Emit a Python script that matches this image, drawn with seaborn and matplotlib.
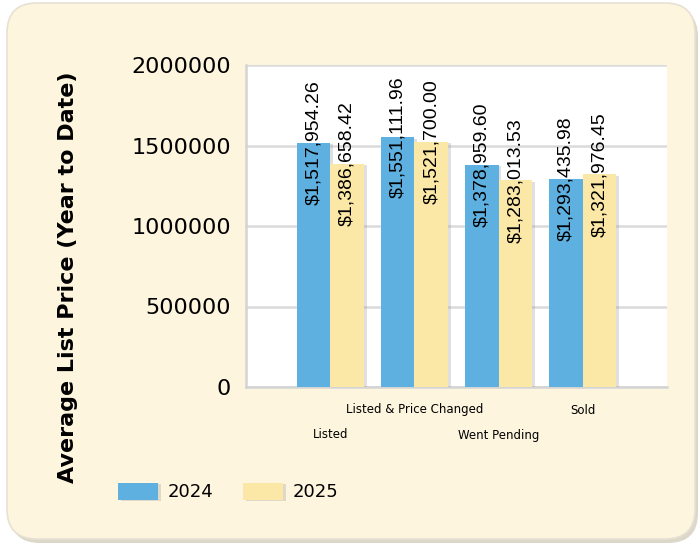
import pandas as pd
import numpy as np
import matplotlib.pyplot as plt
import matplotlib.patheffects as pe
from matplotlib.patches import FancyBboxPatch
from matplotlib.transforms import IdentityTransform
import seaborn as sns

categories = ['Listed', 'Listed & Price Changed', 'Went Pending', 'Sold']
years = ['2024', '2025']
prices_2024 = [1517954.26, 1551111.96, 1378959.60, 1293435.98]
prices_2025 = [1386658.42, 1521700.00, 1283013.53, 1321976.45]
y_ticks = [0, 500000, 1000000, 1500000, 2000000]

df = pd.DataFrame({
    'category': categories * 2,
    'year': [years[0]] * 4 + [years[1]] * 4,
    'price': prices_2024 + prices_2025,
})

sns.set_style('white')
plt.rcParams['font.family'] = ['DejaVu Sans']
plt.rcParams['text.color'] = 'black'
plt.rcParams['xtick.color'] = 'black'
plt.rcParams['ytick.color'] = 'black'

fig = plt.figure(figsize=(7, 5.44), dpi=100, facecolor='white')

# rounded beige panel behind everything (pixel coords)
shadow = FancyBboxPatch((10, 1), 688, 536, boxstyle='round,pad=0,rounding_size=30',
                        transform=IdentityTransform(), facecolor='#dcd7c8',
                        edgecolor='none', zorder=-3)
panel = FancyBboxPatch((7, 5), 688, 536, boxstyle='round,pad=0,rounding_size=30',
                       transform=IdentityTransform(), facecolor='#fdf5de',
                       edgecolor='#e6e1d3', linewidth=1.2, zorder=-2)
fig.add_artist(shadow)
fig.add_artist(panel)

ax = fig.add_axes([246 / 700, 1 - 387 / 544, 421 / 700, 322 / 544])
ax.set_facecolor('white')

sns.barplot(data=df, x='category', y='price', hue='year', order=categories,
            hue_order=years, palette=['#5db0e0', '#fce8a6'], width=0.8,
            saturation=1, linewidth=0, ax=ax, zorder=3)

shadow_fx = [pe.SimplePatchShadow(offset=(2, -1), shadow_rgbFace='#9a9a9a', alpha=0.3),
             pe.Normal()]
for cont in ax.containers:
    for bar in cont:
        bar.set_edgecolor('none')
        bar.set_path_effects(shadow_fx)
        h = bar.get_height()
        ax.text(bar.get_x() + bar.get_width() / 2, h, f'${h:,.2f}', rotation=90,
                ha='center', va='center', fontsize=14, family='Liberation Sans',
                color='black', zorder=5)

handles, labels = ax.get_legend_handles_labels()
ax.get_legend().remove()

ax.set_xlim(-1, 4)
ax.set_ylim(0, 2000000)
ax.set_yticks(y_ticks)
ax.set_yticklabels([str(t) for t in y_ticks], fontsize=16, color='black')
ax.set_xticks(range(len(categories) + 1))
ax.set_xticklabels([''] * (len(categories) + 1))
ax.set_xlabel('')
ax.set_ylabel('')

ax.grid(axis='y', color='#dadada', linewidth=1.8, zorder=0)
ax.set_axisbelow(True)
for s in ['top', 'right']:
    ax.spines[s].set_visible(False)
for s in ['left', 'bottom']:
    ax.spines[s].set_color('#d4d4d4')
    ax.spines[s].set_linewidth(1.8)
ax.tick_params(axis='y', length=5, width=1.8, color='#d4d4d4', pad=6)
ax.tick_params(axis='x', length=4, width=1.5, color='#d4d4d4', direction='out')

# staggered category labels
for i, cat in enumerate(categories):
    off = -48 if i % 2 == 0 else -23
    ax.annotate(cat, xy=(i, 0), xycoords=ax.get_xaxis_transform(),
                xytext=(0, off * 0.72), textcoords='offset points',
                ha='center', va='center', fontsize=8.5, color='black')

fig.text(68 / 700, 1 - 277 / 544, 'Average List Price (Year to Date)', rotation=90,
         ha='center', va='center', fontsize=16, fontweight='bold', color='black')

leg = fig.legend(handles, labels, loc='center left',
                 bbox_to_anchor=(118 / 700, 1 - 492 / 544), ncol=2, frameon=False,
                 fontsize=13, handlelength=2.2, handleheight=1.1, handletextpad=0.55,
                 columnspacing=1.65, borderpad=0, borderaxespad=0)
for p in leg.get_patches():
    p.set_edgecolor('none')
    p.set_path_effects(shadow_fx)
for t in leg.get_texts():
    t.set_color('black')

fig.savefig('out.png', dpi=100)
